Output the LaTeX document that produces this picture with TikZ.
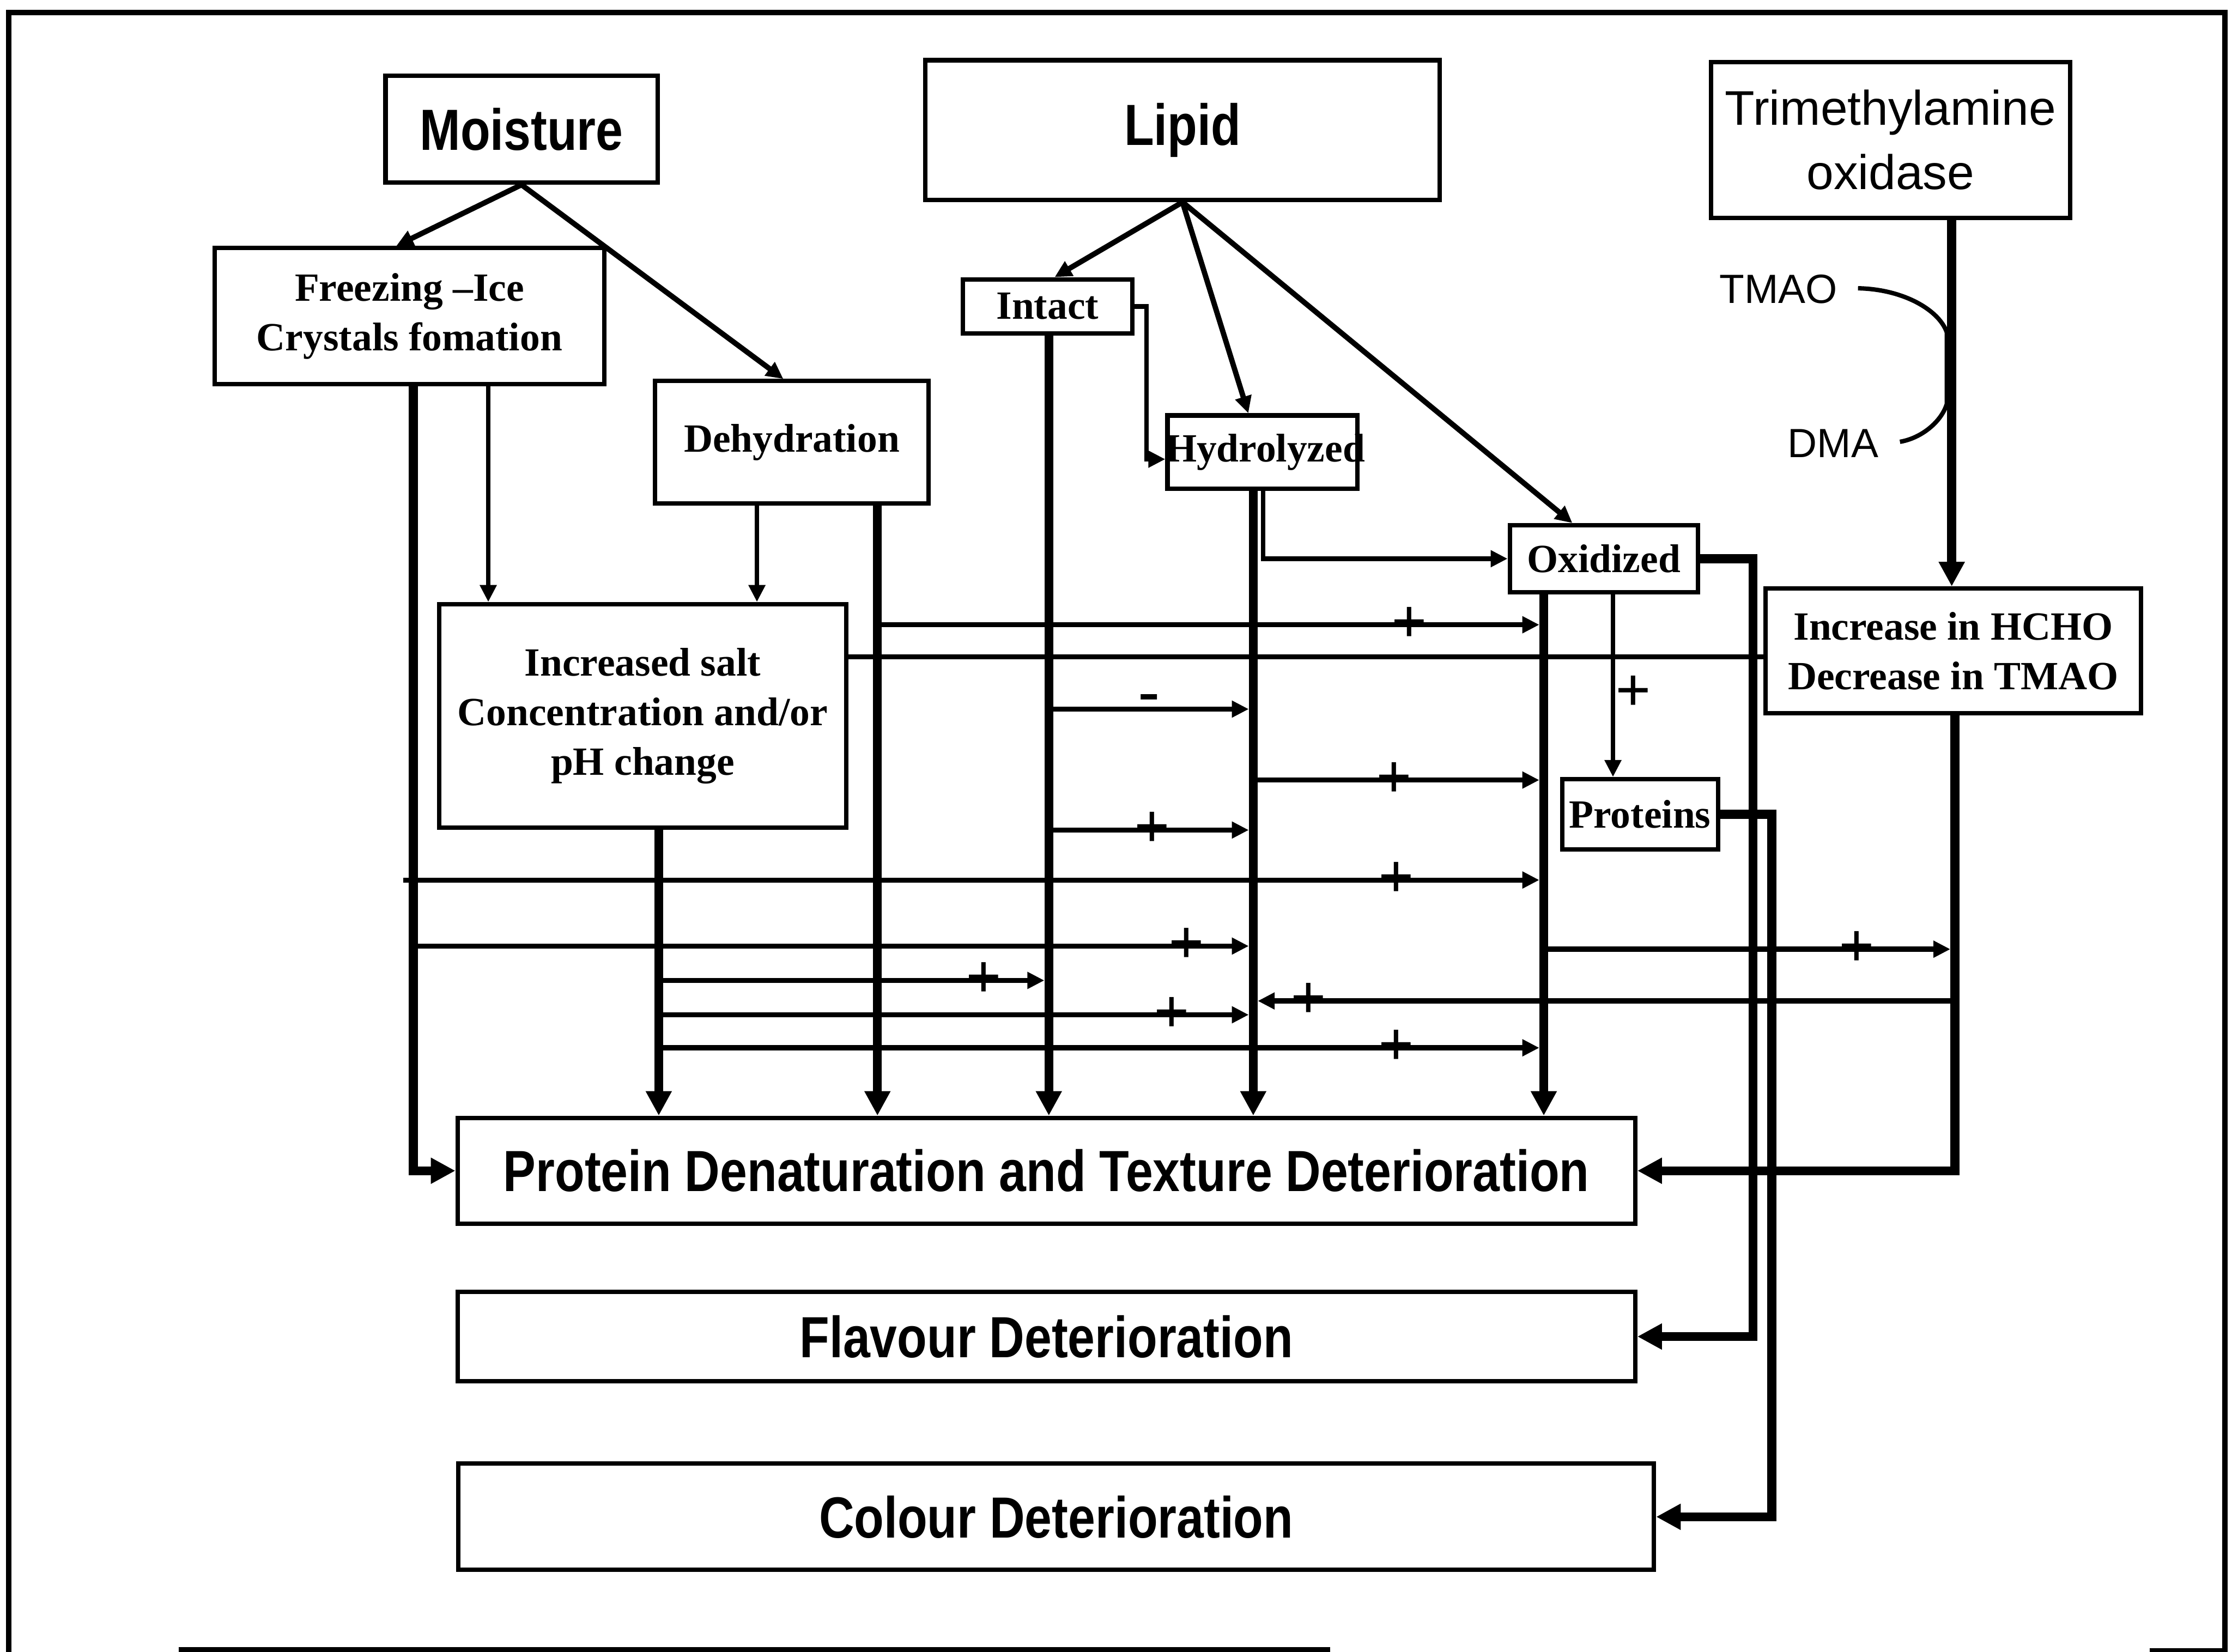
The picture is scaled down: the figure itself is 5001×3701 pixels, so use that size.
\documentclass[tikz,border=0pt]{standalone}
\usepackage{fontspec}
\usetikzlibrary{arrows.meta}
\newfontfamily\hdfont[FakeStretch=0.84]{Liberation Sans}
\newfontfamily\sanfont{Liberation Sans}
\newfontfamily\sefont{Liberation Serif}
\begin{document}
\begin{tikzpicture}[x=0.01cm,y=-0.01cm,
  box/.style={draw, line width=2.8pt, inner sep=0pt, align=center},
  hd/.style={font={\hdfont\bfseries\fontsize{37}{42}\selectfont}},
  se/.style={font={\sefont\bfseries\fontsize{25.5}{31.5}\selectfont}},
  sa/.style={font={\sanfont\fontsize{31}{41}\selectfont}},
  lab/.style={font={\sanfont\fontsize{26}{30}\selectfont}, inner sep=0pt},
  thin/.style={line width=3pt},
  dg/.style={line width=3.4pt},
  hl/.style={line width=3.2pt},
  thk/.style={line width=5.7pt},
  tipS/.style={-{Triangle[length=3.8mm,width=3.6mm]}},
  tipL/.style={-{Triangle[length=5.5mm,width=5.5mm]}},
  sign/.style={font={\sefont\bfseries\fontsize{40}{40}\selectfont}, inner sep=0pt}
]
\useasboundingbox (0,0) rectangle (5001,3701);

% outer frame
\draw[line width=3.5pt] (20,3710) -- (20,28) -- (4985,28) -- (4985,3710);
\draw[line width=3.5pt] (400,3697) -- (2980,3697);
\draw[line width=3.5pt] (4816,3699) -- (4985,3699);

% boxes
\node[box,hd,minimum width=6.09cm,minimum height=2.39cm] (moist) at (1168.5,289.5) {Moisture};
\node[box,se,minimum width=8.73cm,minimum height=3.05cm] (freez) at (917.5,708.5) {Freezing –Ice\\Crystals fomation};
\node[box,se,minimum width=6.12cm,minimum height=2.74cm] (dehyd) at (1774,991) {Dehydration};
\node[box,hd,minimum width=11.51cm,minimum height=3.13cm] (lipid) at (2649.5,291.5) {Lipid};
\node[box,se,minimum width=3.80cm,minimum height=1.21cm] (intact) at (2347,686.5) {Intact};
\node[box,minimum width=4.25cm,minimum height=1.64cm] (hydro) at (2828.5,1013) {};
\node[se,inner sep=0pt] (hydrot) at (2835,1013) {Hydrolyzed};
\node[box,se,minimum width=4.21cm,minimum height=1.50cm] (oxid) at (3593.5,1252) {Oxidized};
\node[box,sa,minimum width=8.04cm,minimum height=3.49cm] (tma) at (4236,313.5) {Trimethylamine\\oxidase};
\node[box,se,minimum width=8.41cm,minimum height=2.79cm] (hcho) at (4376.5,1458.5) {Increase in HCHO\\Decrease in TMAO};
\node[box,se,minimum width=9.12cm,minimum height=5.01cm] (salt) at (1440,1604.5) {Increased salt\\Concentration and/or\\pH change};
\node[box,se,minimum width=3.49cm,minimum height=1.57cm] (prots) at (3674.5,1824.5) {Proteins};
\node[box,hd,minimum width=26.37cm,minimum height=2.37cm] (prot) at (2344.5,2623.5) {Protein Denaturation and Texture Deterioration};
\node[box,hd,minimum width=26.37cm,minimum height=2.00cm] (flav) at (2344.5,2995) {Flavour Deterioration};
\node[box,hd,minimum width=26.77cm,minimum height=2.38cm] (colr) at (2366.5,3399) {Colour Deterioration};

% TMAO / DMA labels and curve
\node[lab] (tmaol) at (3985,648) {TMAO};
\node[lab] (dmal) at (4107,993) {DMA};
\coordinate (cva) at (4163,646);
\coordinate (cvb) at (4257,990);
\draw[line width=2.8pt] (cva) .. controls (4265,648) and (4345,695) .. (4362,745) -- (4362,905) .. controls (4350,945) and (4305,982) .. (cvb);

% diagonal arrows
\draw[dg,tipS] (moist.south) -- (freez.north -| 888,0);
\draw[dg,tipS] (moist.south) -- (dehyd.north -| 1755,0);
\draw[dg,tipS] (lipid.south) -- (intact.north -| 2363,0);
\draw[dg,tipS] (lipid.south) -- (hydro.north -| 2797,0);
\draw[dg,tipS] (lipid.south) -- (oxid.north -| 3523,0);

% thin connectors
\draw[thin,tipS] (intact.east) -- (2569,686.5) |- (hydro.west |- 0,1029);
\draw[thin,tipS] (hydro.south -| 2830,0) |- (oxid.west);
\draw[thin,tipS] (oxid.south -| 3614,0) -- (prots.north -| 3614,0);
\node[sign] at (3660,1554) {+};
\draw[thin,tipS] (freez.south -| 1094,0) -- (salt.north -| 1094,0);
\draw[thin,tipS] (dehyd.south -| 1696,0) -- (salt.north -| 1696,0);

% thick connectors
\draw[thk,tipL] (tma.south -| 4373,0) -- (hcho.north -| 4373,0);
\draw[thk,tipL] (freez.south -| 926,0) |- (prot.west);
\draw[thk,tipL] (salt.south -| 1476,0) -- (prot.north -| 1476,0);
\draw[thk,tipL] (dehyd.south -| 1966,0) -- (prot.north -| 1966,0);
\draw[thk,tipL] (intact.south -| 2350,0) -- (prot.north -| 2350,0);
\draw[thk,tipL] (hydro.south -| 2808,0) -- (prot.north -| 2808,0);
\draw[thk,tipL] (oxid.south -| 3459,0) -- (prot.north -| 3459,0);
\draw[thk,tipL] (oxid.east) -| (3928,2995) -- (flav.east);
\draw[thk,tipL] (prots.east) -| (3970,3399) -- (colr.east);
\draw[thk,tipL] (hcho.south -| 4380,0) |- (prot.east);

% horizontal interaction lines
\draw[hl,tipS] (1976,1400) -- (3449,1400);
\node[sign] at (3158,1400) {+};
\draw[hl] (salt.east |- 0,1472) -- (hcho.west |- 0,1472);
\draw[hl,tipS] (2360,1589) -- (2798,1589);
\node[sign] (minus) at (2574,1576) {-};
\draw[hl,tipS] (2818,1748) -- (3449,1748);
\node[sign] at (3124,1748) {+};
\draw[hl,tipS] (2360,1860) -- (2798,1860);
\node[sign] at (2582,1860) {+};
\draw[hl,tipS] (904,1972) -- (3449,1972);
\node[sign] at (3128,1972) {+};
\draw[hl,tipS] (936,2120) -- (2798,2120);
\node[sign] at (2658,2120) {+};
\draw[hl,tipS] (1486,2197) -- (2340,2197);
\node[sign] at (2204,2197) {+};
\draw[hl,tipS] (1486,2274) -- (2798,2274);
\node[sign] at (2626,2274) {+};
\draw[hl,tipS] (1486,2348) -- (3449,2348);
\node[sign] at (3128,2348) {+};
\draw[hl,tipS] (3469,2127) -- (4370,2127);
\node[sign] at (4160,2127) {+};
\draw[hl,tipS] (4370,2243) -- (2818,2243);
\node[sign] at (2932,2243) {+};
\end{tikzpicture}
\end{document}
